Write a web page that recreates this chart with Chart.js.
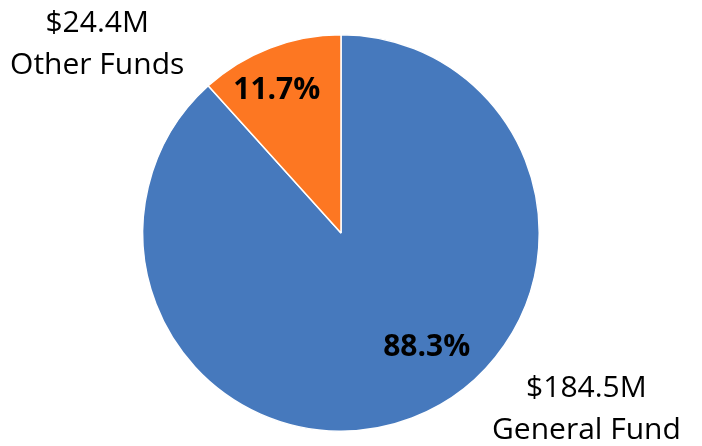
<!DOCTYPE html>
<html>
<head>
<meta charset="utf-8">
<script src="https://cdn.jsdelivr.net/npm/chart.js@4"></script>
<style>
  body { margin: 0; background: #fff; }
  #wrap { width: 702px; height: 446px; }
</style>
</head>
<body>
<div id="wrap"><canvas id="fundPie" width="702" height="446"></canvas></div>
<script>
// chart data
const categories = ['General Fund', 'Other Funds'];
const amounts = [184.5, 24.4];          // $M
const percentLabels = ['88.3%', '11.7%'];
const amountLabels = ['$184.5M', '$24.4M'];
const sliceColors = ['#4679bd', '#fd7722'];

// where the labels sit: angle in degrees (0 = 3 o'clock, clockwise) and
// distance as a fraction of the radius
const pctPlace = [{ angle: 52.5, dist: 0.71 }, { angle: -113.9, dist: 0.80 }];
const outerPlace = [{ angle: 37.0, dist: 1.55 }, { angle: -143.5, dist: 1.53 }];

const labelPlugin = {
    id: 'sliceLabels',
    afterDatasetsDraw(chart) {
        const ctx = chart.ctx;
        const arcs = chart.getDatasetMeta(0).data;
        ctx.save();
        ctx.fillStyle = '#000';
        ctx.textAlign = 'center';
        ctx.textBaseline = 'alphabetic';
        arcs.forEach(function (arc, i) {
            const R = arc.outerRadius;
            // percentage inside the slice
            let a = pctPlace[i].angle * Math.PI / 180;
            let x = arc.x + Math.cos(a) * R * pctPlace[i].dist;
            let y = arc.y + Math.sin(a) * R * pctPlace[i].dist;
            ctx.font = 'bold 30px "Open Sans"';
            ctx.fillText(percentLabels[i], x, y + 11);

            // amount + name outside
            a = outerPlace[i].angle * Math.PI / 180;
            x = arc.x + Math.cos(a) * R * outerPlace[i].dist;
            y = arc.y + Math.sin(a) * R * outerPlace[i].dist;
            ctx.font = '30px "Open Sans"';
            ctx.fillText(amountLabels[i], x, y - 21);
            ctx.fillText(categories[i], x, y + 21);
        });
        ctx.restore();
    }
};

const ctx = document.getElementById('fundPie').getContext('2d');
const fundPie = new Chart(ctx, {
    type: 'pie',
    data: {
        labels: categories,
        datasets: [{
            data: amounts,
            backgroundColor: sliceColors,
            borderColor: '#ffffff',
            borderWidth: 1.5,
            hoverOffset: 0
        }]
    },
    options: {
        responsive: false,
        animation: false,
        layout: {
            padding: { top: 34, bottom: 14, left: 142, right: 162 }
        },
        plugins: {
            legend: { display: false },
            tooltip: { enabled: false }
        }
    },
    plugins: [labelPlugin]
});
</script>
</body>
</html>
